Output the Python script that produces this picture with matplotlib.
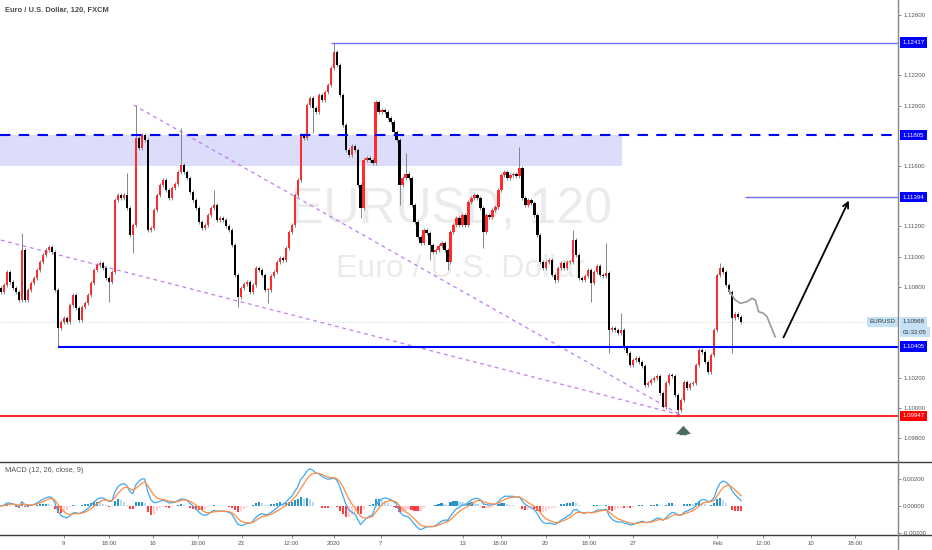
import numpy as np
import pandas as pd
import matplotlib
matplotlib.use('Agg')
import matplotlib.pyplot as plt
import matplotlib.transforms as mtransforms
from matplotlib.lines import Line2D
from matplotlib import font_manager

# EURUSD closes, one value per drawn candle
closes = [
    1.10766, 1.10812, 1.10898, 1.10832, 1.10792, 1.10766, 1.10713, 1.11044, 1.10713, 1.10779,
    1.10826, 1.10859, 1.10912, 1.10965, 1.11011, 1.11044, 1.11064, 1.11031, 1.10779, 1.10528,
    1.10567, 1.10594, 1.10567, 1.10680, 1.10746, 1.10660, 1.10581, 1.10667, 1.10693, 1.10746,
    1.10826, 1.10912, 1.10945, 1.10958, 1.10925, 1.10859, 1.10832, 1.10898, 1.11375, 1.11408,
    1.11388, 1.11408, 1.11322, 1.11143, 1.11209, 1.11785, 1.11719, 1.11805, 1.11772, 1.11176,
    1.11190, 1.11309, 1.11408, 1.11474, 1.11507, 1.11441, 1.11388, 1.11454, 1.11481, 1.11560,
    1.11607, 1.11560, 1.11521, 1.11428, 1.11375, 1.11322, 1.11229, 1.11190, 1.11209, 1.11276,
    1.11322, 1.11342, 1.11243, 1.11256, 1.11243, 1.11203, 1.11176, 1.11077, 1.10878, 1.10733,
    1.10792, 1.10819, 1.10832, 1.10766, 1.10812, 1.10925, 1.10912, 1.10878, 1.10779, 1.10779,
    1.10872, 1.10898, 1.10965, 1.10991, 1.10978, 1.11057, 1.11163, 1.11209, 1.11408, 1.11507,
    1.11805, 1.11785, 1.12004, 1.12050, 1.11984, 1.11958, 1.12070, 1.12037, 1.12090, 1.12136,
    1.12249, 1.12355, 1.12269, 1.12070, 1.11871, 1.11706, 1.11673, 1.11732, 1.11706, 1.11474,
    1.11322, 1.11640, 1.11653, 1.11640, 1.11620, 1.12024, 1.11958, 1.11971, 1.11958, 1.11918,
    1.11891, 1.11825, 1.11772, 1.11474, 1.11521, 1.11547, 1.11521, 1.11342, 1.11229, 1.11130,
    1.11090, 1.11176, 1.11157, 1.11077, 1.11031, 1.11044, 1.11070, 1.11090, 1.11044, 1.10965,
    1.11163, 1.11209, 1.11256, 1.11209, 1.11276, 1.11209, 1.11362, 1.11388, 1.11408, 1.11388,
    1.11322, 1.11163, 1.11276, 1.11262, 1.11309, 1.11329, 1.11441, 1.11540, 1.11560, 1.11521,
    1.11540, 1.11547, 1.11534, 1.11587, 1.11388, 1.11342, 1.11375, 1.11355, 1.11276, 1.11143,
    1.10965, 1.10925, 1.10965, 1.10978, 1.10878, 1.10845, 1.10925, 1.10958, 1.10925, 1.10965,
    1.10965, 1.11110, 1.11011, 1.10859, 1.10845, 1.10872, 1.10912, 1.10826, 1.10898, 1.10938,
    1.10878, 1.10872, 1.10892, 1.10514, 1.10528, 1.10514, 1.10495, 1.10514, 1.10395, 1.10362,
    1.10283, 1.10316, 1.10329, 1.10303, 1.10276, 1.10150, 1.10164, 1.10183, 1.10197, 1.10210,
    1.10097, 1.10005, 1.10164, 1.10216, 1.10210, 1.10084, 1.09985, 1.10051, 1.10170, 1.10130,
    1.10157, 1.10164, 1.10283, 1.10382, 1.10369, 1.10303, 1.10236, 1.10349, 1.10514, 1.10878,
    1.10925, 1.10898, 1.10812, 1.10766, 1.10594, 1.10620, 1.10600, 1.10568,
]
first_open = 1.10790

# long wicks that stick out of the plain candles
spike_highs = {7: 1.11157, 42: 1.11554, 45: 1.12004, 60: 1.11853, 71: 1.11441, 111: 1.12417,
               135: 1.11686, 173: 1.11726, 191: 1.11176, 202: 1.11090, 207: 1.10627, 240: 1.10958}
spike_lows = {19: 1.10405, 36: 1.10700, 44: 1.11024, 79: 1.10667, 89: 1.10693, 104: 1.11818,
              120: 1.11256, 133: 1.11342, 143: 1.10978, 149: 1.10912, 161: 1.11057, 185: 1.10826,
              197: 1.10700, 203: 1.10362, 221: 1.09999, 226: 1.09940, 244: 1.10362}

# drawn levels
level_top = 1.12417
level_zone = 1.11805
zone_bottom = 1.11600
level_target = 1.11394
level_support = 1.10405
level_low = 1.09947
last_price = 1.10568

date_ticks = [21, 36, 50.7, 65.7, 80.3, 97, 111, 126.7, 154.3, 166.7, 181.7, 196.3, 211, 239, 254.3, 270.3, 285]
date_labels = ['9', '18:00', '16', '18:00', '23', '12:00', '2020', '7', '13', '18:00', '20', '18:00',
               '27', 'Feb', '12:00', '10', '18:00']

# trend lines (bar, price)
trend_a_x = [44.3, 226.7]
trend_a_y = [1.12004, 1.09953]
trend_b_x = [0, 226.7]
trend_b_y = [1.11110, 1.09953]

# hand drawn projection path and arrow
path_x = [242.8, 245.0, 246.7, 248.9, 250.6, 251.7, 252.8, 254.4, 255.6, 256.7, 258.3]
path_y = [1.10779, 1.10713, 1.10691, 1.10702, 1.10725, 1.10713, 1.10636, 1.10625, 1.10603, 1.10548, 1.10470]
arrow_from = (260.7, 1.10449)
arrow_to = (283.3, 1.11388)

c = np.array(closes)
o = np.r_[first_open, c[:-1]]
wick = 0.00014
h = np.maximum(o, c) + wick
l = np.minimum(o, c) - wick
for i, v in spike_highs.items():
    h[i] = v
for i, v in spike_lows.items():
    l[i] = v
x = np.arange(len(c))

# MACD(12, 26, 9); one drawn candle covers two 120 min bars so spans are halved
s = pd.Series(c)
macd = s.ewm(span=6, adjust=False).mean() - s.ewm(span=13, adjust=False).mean()
signal = macd.ewm(span=4.5, adjust=False).mean()
hist = (macd - signal).values
macd = macd.values
signal = signal.values

names = {f.name for f in font_manager.fontManager.ttflist}
if 'Liberation Sans Narrow' in names:
    wm_font, wm_size = 'Liberation Sans Narrow', 45
else:
    wm_font, wm_size = 'Liberation Sans', 36
plt.rcParams['font.family'] = ['Liberation Sans', 'DejaVu Sans']

W, H = 932, 550
fig = plt.figure(figsize=(W / 100, H / 100), dpi=100)
fig.patch.set_facecolor('white')
ax = fig.add_axes([0, 88 / H, 898 / W, 462 / H])
axm = fig.add_axes([0, 15 / H, 898 / W, 72 / H])

xmax = 299.3
ax.set_xlim(-0.3, xmax)
ax.set_ylim(1.09641, 1.12699)
axm.set_xlim(-0.3, xmax)
axm.set_ylim(-0.00215, 0.00319)

for a in (ax, axm):
    for sp in a.spines.values():
        sp.set_visible(False)
    a.yaxis.tick_right()
    a.tick_params(axis='y', length=2.5, width=0.6, color='#777777', labelsize=4.4,
                  labelcolor='#555555', pad=1.2)

# watermark
ax.text(0.502, 0.517, 'EURUSD, 120', transform=ax.transAxes, ha='center', va='baseline',
        fontsize=wm_size, family=wm_font, color='#ebebeb', zorder=0)
ax.text(0.513, 0.400, 'Euro / U.S. Dollar', transform=ax.transAxes, ha='center', va='baseline',
        fontsize=23, color='#ebebeb', zorder=0)

# zone and levels
ax.fill_between([-0.3, 207.3], zone_bottom, level_zone, color='#dcdcfb', lw=0, zorder=1)
ax.axhline(last_price, color='#a9cfe9', lw=0.6, ls=(0, (1, 2)), zorder=1)
ax.axhline(level_zone, color='#0000ff', lw=1.5, ls=(0, (5, 4)), zorder=4)
ax.hlines(level_top, 110, xmax, color='#6e6eff', lw=1.0, zorder=4)
ax.hlines(level_target, 248.3, xmax, color='#6e6eff', lw=1.0, zorder=4)
ax.hlines(level_support, 19, xmax, color='#0000ff', lw=1.5, zorder=4)
ax.axhline(level_low, color='#ff1a1a', lw=1.3, zorder=4)

ax.plot(trend_a_x, trend_a_y, color='#c27cf2', lw=0.9, ls=(0, (3, 3)), zorder=2)
ax.plot(trend_b_x, trend_b_y, color='#c27cf2', lw=0.9, ls=(0, (3, 3)), zorder=2)

# candles
up = c >= o
ax.vlines(x, l, h, color='#858585', lw=0.7, zorder=3)
ax.bar(x, np.maximum(np.abs(c - o), 0.00004), bottom=np.minimum(o, c), width=0.72,
       color=np.where(up, '#ff2a2a', '#000000'), lw=0, zorder=3)

# projection
ax.plot(path_x, path_y, color='#9a9a9a', lw=1.2, zorder=5)
ax.annotate('', xy=arrow_to, xytext=arrow_from,
            arrowprops=dict(arrowstyle='->', color='black', lw=1.3, mutation_scale=10), zorder=5)
ax.annotate('', xy=(227.7, 1.09899), xytext=(227.7, 1.09800),
            arrowprops=dict(arrowstyle='simple,head_length=0.6,head_width=1.1,tail_width=0.55',
                            fc='#4d6b62', ec='none', mutation_scale=10), zorder=5)

# scale labels hidden behind the level tags are left out
tag_prices = [level_top, level_zone, level_target, level_support, level_low, last_price]
price_ticks = [p for p in np.arange(1.098, 1.1261, 0.002)
               if min(abs(p - t) for t in tag_prices) > 0.0004]
ax.set_yticks(price_ticks)
ax.set_yticklabels([f'{p:.5f}' for p in price_ticks])
ax.set_xticks([])

blend = mtransforms.blended_transform_factory(ax.transAxes, ax.transData)


def tag(price, bg, fg='white', text=None):
    ax.text(1.005, price, text or f'{price:.5f}', transform=blend, fontsize=4.4, color=fg,
            va='center', ha='left', clip_on=False, zorder=20,
            bbox=dict(boxstyle='square,pad=0.45', fc=bg, ec='none'))


tag(level_top, '#0000ff')
tag(level_zone, '#0000ff')
tag(level_target, '#0000ff')
tag(level_support, '#0000ff')
tag(level_low, '#ff0000')
tag(last_price, '#c5e1f5', fg='#333333')
ax.text(0.997, last_price, 'EURUSD', transform=blend, fontsize=4.4, color='#333333',
        va='center', ha='right', zorder=20,
        bbox=dict(boxstyle='square,pad=0.45', fc='#c5e1f5', ec='none'))
ax.annotate('01:32:05', xy=(1.0, last_price), xycoords=blend, xytext=(3.6, -7.3),
            textcoords='offset points', fontsize=4.4, color='#333333', va='center', ha='left',
            annotation_clip=False, zorder=20,
            bbox=dict(boxstyle='square,pad=0.45', fc='#c5e1f5', ec='none'))

# MACD pane
hcol = []
for i, v in enumerate(hist):
    prev = hist[i - 1] if i else v
    if v >= 0:
        hcol.append('#2b93cc' if v >= prev else '#b5dcf0')
    else:
        hcol.append('#ff4040' if v <= prev else '#ffcdd2')
axm.bar(x, hist, width=0.7, color=hcol, lw=0, zorder=2)
axm.plot(x, macd, color='#3fa9f0', lw=0.9, zorder=3)
axm.plot(x, signal, color='#ff8c42', lw=0.9, zorder=3)
axm.set_yticks([-0.002, 0.0, 0.002])
axm.set_yticklabels(['-0.00200', '0.00000', '0.00200'])
axm.set_xticks(date_ticks)
axm.set_xticklabels(date_labels)
axm.tick_params(axis='x', length=2.5, width=0.6, color='#777777', labelsize=4.4,
                labelcolor='#555555', pad=1.5)

fig.text(5 / W, 1 - 10 / H, 'Euro / U.S. Dollar, 120, FXCM', fontsize=5.4, color='#4a4a4a',
         va='center', ha='left', weight='bold')
fig.text(5 / W, 1 - 470 / H, 'MACD (12, 26, close, 9)', fontsize=5.3, color='#555555',
         va='center', ha='left')

# pane separators and price scale border
fig.add_artist(Line2D([0, 1], [88 / H, 88 / H], transform=fig.transFigure, color='#3d3d3d', lw=1.0))
fig.add_artist(Line2D([0, 1], [15 / H, 15 / H], transform=fig.transFigure, color='#3d3d3d', lw=1.0))
fig.add_artist(Line2D([898 / W, 898 / W], [0, 1], transform=fig.transFigure, color='#858585', lw=1.0))

fig.savefig('out.png', dpi=100, facecolor='white')
